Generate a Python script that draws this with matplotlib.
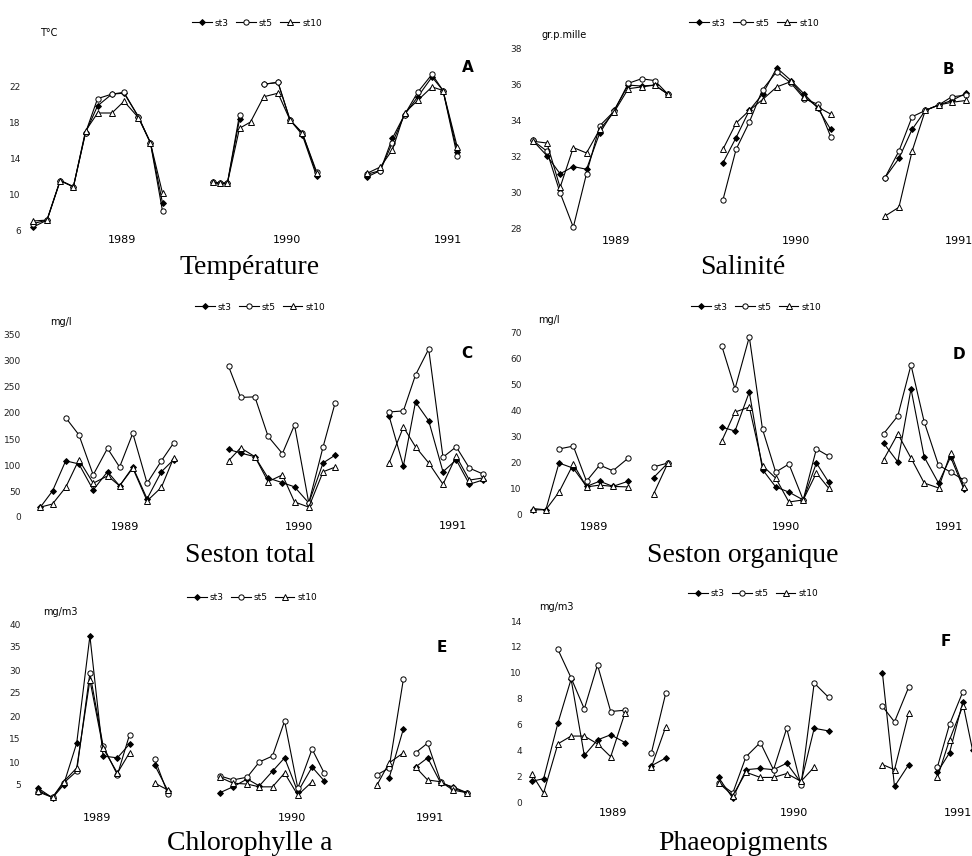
import matplotlib
matplotlib.use("Agg")
import matplotlib.pyplot as plt
from matplotlib.lines import Line2D
import numpy as np

nan = np.nan

# ---- data: x = months since start of 1989 survey, nan = gap between campaigns ----
x_A = [0.7, 2.0, 3.2, 4.4, 5.5, 6.6, 7.9, 9.0, 10.3, 11.4, 12.5, nan,
       17.1, 17.7, 18.4, 19.5, 20.5, 21.7, 23.0, 24.1, 25.2, 26.5, nan,
       31.1, 32.3, 33.4, 34.5, 35.7, 37.0, 38.0, 39.3]
a_st3 = [6.3, 7.1, 11.5, 10.8, 16.8, 19.8, 21.1, 21.2, 18.6, 15.7, 9.0, nan,
         11.3, 11.2, 11.2, 18.3, nan, 22.2, 22.4, 18.2, 16.6, 12.0, nan,
         11.9, 12.6, 16.2, 18.8, 20.8, 23.0, 21.5, 14.7]
a_st5 = [6.7, 7.1, 11.5, 10.8, 16.8, 20.6, 21.1, 21.3, 18.6, 15.7, 8.1, nan,
         11.3, 11.2, 11.2, 18.8, nan, 22.2, 22.4, 18.2, 16.8, 12.5, nan,
         12.2, 12.6, 15.7, 18.8, 21.3, 23.3, 21.5, 14.2]
a_st10 = [7.0, 7.1, 11.5, 10.8, 17.0, 19.0, 19.0, 20.3, 18.5, 15.7, 10.1, nan,
          11.3, 11.2, 11.2, 17.3, 18.0, 20.8, 21.2, 18.2, 16.8, 12.3, nan,
          12.3, 13.0, 14.9, 19.0, 20.4, 21.9, 21.5, 15.2]

x_B = [0.6, 1.9, 3.1, 4.3, 5.5, 6.7, 8.0, 9.3, 10.5, 11.7, 12.9, nan,
       17.9, 19.1, 20.3, 21.5, 22.8, 24.1, 25.3, 26.5, 27.7, nan,
       32.6, 33.9, 35.1, 36.3, 37.5, 38.7, 40.0]
b_st3 = [32.9, 32.05, 31.05, 31.45, 31.3, 33.3, 34.55, 35.95, 35.9, 35.95, 35.45, nan,
         31.65, 33.05, 34.55, 35.45, 36.9, 36.2, 35.45, 34.7, 33.5, nan,
         30.8, 31.9, 33.5, 34.55, 34.85, 35.1, 35.5]
b_st5 = [32.9, 32.3, 30.0, 28.1, 31.05, 33.7, 34.5, 36.05, 36.3, 36.2, 35.45, nan,
         29.6, 32.4, 33.9, 35.7, 36.7, 36.05, 35.2, 34.9, 33.1, nan,
         30.8, 32.3, 34.2, 34.55, 34.85, 35.3, 35.4]
b_st10 = [32.85, 32.75, 30.3, 32.5, 32.2, 33.5, 34.45, 35.75, 35.85, 35.95, 35.45, nan,
          32.4, 33.85, 34.55, 35.15, 35.85, 36.15, 35.3, 34.75, 34.35, nan,
          28.7, 29.2, 32.3, 34.55, 34.85, 35.0, 35.1]

x_C = [1.4, 2.5, 3.7, 4.9, 6.2, 7.5, 8.6, 9.8, 11.1, 12.4, 13.5, nan,
       18.5, 19.6, 20.9, 22.1, 23.4, 24.5, 25.8, 27.1, 28.2, nan,
       33.1, 34.4, 35.5, 36.7, 38.0, 39.2, 40.4, 41.6]
c_st3 = [19, 50, 108, 102, 52, 87, 60, 96, 35, 87, 110, nan,
         130, 123, 116, 75, 66, 58, 27, 104, 119, nan,
         194, 98, 221, 185, 87, 110, 63, 71]
c_st5 = [nan, nan, 191, 158, 81, 132, 96, 161, 65, 108, 142, nan,
         290, 230, 231, 155, 122, 177, 27, 135, 220, nan,
         202, 204, 273, 323, 115, 135, 94, 83]
c_st10 = [19, 25, 57, 110, 65, 79, 60, 94, 31, 57, 113, nan,
          108, 133, 116, 68, 81, 29, 19, 87, 96, nan,
          104, 173, 135, 104, 63, 117, 71, 75]

x_D = [0.6, 1.8, 3.0, 4.3, 5.5, 6.7, 7.9, 9.3, nan, 11.6, 12.9, nan,
       17.8, 19.0, 20.3, 21.5, 22.7, 23.9, 25.2, 26.4, 27.5, nan,
       32.5, 33.8, 35.0, 36.2, 37.5, 38.6, 39.8]
d_st3 = [2, 2, 20, 18, 11, 13, 11, 13, nan, 14.4, 20, nan,
         33.8, 32.3, 47.3, 17.5, 10.8, 8.8, 5.8, 20, 12.7, nan,
         27.7, 20.4, 48.5, 22.3, 12.3, 22.3, 10]
d_st5 = [nan, nan, 25.4, 26.5, 13, 19.2, 17, 21.9, nan, 18.5, 20, nan,
         65, 48.5, 68.5, 33, 16.5, 19.6, 5.8, 25.4, 22.7, nan,
         31.2, 38.1, 57.7, 35.8, 19.2, 16.5, 13.5]
d_st10 = [2.5, 2, 8.8, 19.6, 10.8, 11.5, 11, 10.8, nan, 8.1, 20, nan,
          28.5, 39.6, 41.5, 19, 14.2, 5, 5.8, 16.2, 10.4, nan,
          21.2, 31.2, 21.9, 12.3, 10.4, 23.8, 10.8]

x_E = [1.2, 2.5, 3.5, 4.7, 5.9, 7.1, 8.4, 9.5, nan, 11.8, 13.0, nan,
       17.7, 18.9, 20.2, 21.3, 22.5, 23.6, 24.8, 26.1, 27.2, nan,
       32.0, 33.1, 34.4, nan, 35.5, 36.6, 37.8, 38.9, 40.2]
e_st3 = [4.3, 2.2, 5.0, 14.1, 37.4, 11.3, 10.9, 13.9, nan, 9.3, 3.7, nan,
         3.3, 4.6, 6.3, 4.8, 8.0, 10.9, 3.5, 8.9, 5.9, nan,
         nan, 6.5, 17.2, nan, 8.9, 10.9, 5.4, 4.6, 3.3]
e_st5 = [3.5, 2.3, 5.4, 8.0, 29.3, 13.5, 7.2, 15.9, nan, 10.6, 3.0, nan,
         7.0, 6.1, 6.7, 10.0, 11.3, 18.9, 4.3, 12.8, 7.6, nan,
         7.2, 8.7, 28.0, nan, 12.0, 14.1, 5.7, 4.3, 3.3]
e_st10 = [3.8, 2.3, 5.7, 8.7, 27.8, 13.0, 7.6, 12.0, nan, 5.4, 3.9, nan,
          6.7, 5.4, 5.2, 4.6, 4.6, 7.6, 2.8, 5.7, nan, nan,
          5.0, 9.8, 12.0, nan, 8.9, 6.1, 5.7, 3.9, 3.3]

x_F = [0.5, 1.6, 2.9, 4.1, 5.3, 6.5, 7.7, 9.0, nan, 11.4, 12.7, nan,
       17.5, 18.8, 20.0, 21.3, 22.5, 23.7, 25.0, 26.2, 27.5, nan,
       32.4, 33.5, 34.8, nan, 37.4, 38.5, 39.7, 40.6]
f_st3 = [1.6, 1.8, 6.1, 9.5, 3.6, 4.8, 5.2, 4.6, nan, 2.8, 3.4, nan,
         1.9, 0.3, 2.5, 2.6, 2.5, 3.0, 1.5, 5.7, 5.5, nan,
         10.0, 1.2, 2.9, nan, 2.3, 3.8, 7.7, 4.0]
f_st5 = [nan, nan, 11.8, 9.6, 7.2, 10.6, 7.0, 7.1, nan, 3.8, 8.4, nan,
         1.5, 0.7, 3.5, 4.6, 2.5, 5.7, 1.3, 9.2, 8.1, nan,
         7.4, 6.2, 8.9, nan, 2.7, 6.0, 8.5, nan]
f_st10 = [2.2, 0.7, 4.5, 5.1, 5.1, 4.5, 3.5, 6.9, nan, 2.7, 5.8, nan,
          1.5, 0.5, 2.3, 1.9, 1.9, 2.2, 1.6, 2.7, nan, nan,
          2.9, 2.5, 6.9, nan, 1.9, 4.8, 7.4, nan]

stations = ["st3", "st5", "st10"]
years = ["1989", "1990", "1991"]

# ---- layout (pixels of a 972x856 page) ----
W, H = 972, 856
COLS = [(25, 486), (526, 972)]
PX_PER_MONTH = 11.0

STYLES = {
    "st3": dict(marker="D", ms=3.0, mfc="black", mec="black"),
    "st5": dict(marker="o", ms=3.8, mfc="white", mec="black"),
    "st10": dict(marker="^", ms=3.8, mfc="white", mec="black"),
}

panels = [
    dict(col=0, x=x_A, y=(a_st3, a_st5, a_st10), ref=(6, 230, 22, 86), ylim=(5, 24.5),
         yticks=[6, 10, 14, 18, 22], unit="T°C", unit_xy=(40, 33), letter="A", letter_xy=(468, 67),
         leg_xy=(257, 23), years_xy=[(122, 240), (287, 240), (448, 240)],
         title="Température", title_xy=(250, 267)),
    dict(col=1, x=x_B, y=(b_st3, b_st5, b_st10), ref=(28, 229, 38, 48), ylim=(27.5, 38.3),
         yticks=[28, 30, 32, 34, 36, 38], unit="gr.p.mille", unit_xy=(541, 35), letter="B",
         letter_xy=(948, 69), leg_xy=(754, 23), years_xy=[(616, 241), (796, 241), (959, 241)],
         title="Salinité", title_xy=(743, 268)),
    dict(col=0, x=x_C, y=(c_st3, c_st5, c_st10), ref=(0, 517, 350, 335), ylim=(-10, 350),
         yticks=list(range(0, 351, 50)), unit="mg/l", unit_xy=(50, 322), letter="C",
         letter_xy=(467, 353), leg_xy=(260, 307), years_xy=[(125, 527), (299, 527), (453, 526)],
         title="Seston total", title_xy=(250, 555)),
    dict(col=1, x=x_D, y=(d_st3, d_st5, d_st10), ref=(0, 515, 70, 333), ylim=(-2, 71),
         yticks=list(range(0, 71, 10)), unit="mg/l", unit_xy=(538, 320), letter="D",
         letter_xy=(959, 355), leg_xy=(756, 307), years_xy=[(594, 527), (786, 527), (949, 527)],
         title="Seston organique", title_xy=(743, 555)),
    dict(col=0, x=x_E, y=(e_st3, e_st5, e_st10), ref=(5, 785, 40, 624), ylim=(0.5, 40.5),
         yticks=list(range(5, 41, 5)), unit="mg/m3", unit_xy=(43, 612), letter="E",
         letter_xy=(442, 648), leg_xy=(252, 598), years_xy=[(97, 818), (292, 818), (430, 818)],
         title="Chlorophylle a", title_xy=(250, 843)),
    dict(col=1, x=x_F, y=(f_st3, f_st5, f_st10), ref=(0, 802, 14, 621), ylim=(-0.5, 14.3),
         yticks=list(range(0, 15, 2)), unit="mg/m3", unit_xy=(539, 607), letter="F",
         letter_xy=(946, 642), leg_xy=(753, 594), years_xy=[(613, 813), (794, 813), (958, 813)],
         title="Phaeopigments", title_xy=(743, 843)),
]


def fx(px):
    return px / W


def fy(py):
    return 1 - py / H


def add_panel(fig, p):
    """Axes placed so that the calibration values land where they sit on the page."""
    x0, x1 = COLS[p["col"]]
    v1, p1, v2, p2 = p["ref"]
    scale = (p1 - p2) / (v2 - v1)
    bottom = p1 - (p["ylim"][0] - v1) * scale
    top = p1 - (p["ylim"][1] - v1) * scale
    ax = fig.add_axes([fx(x0), fy(bottom), (x1 - x0) / W, (bottom - top) / H])
    ax.set_xlim(0, (x1 - x0) / PX_PER_MONTH)
    ax.set_ylim(*p["ylim"])
    ax.patch.set_visible(False)
    for s in ax.spines.values():
        s.set_visible(False)
    ax.set_xticks([])
    ax.set_yticks(p["yticks"])
    ax.tick_params(axis="y", length=0, pad=3, labelsize=6.5, labelcolor="#222222")

    for name, vals in zip(stations, p["y"]):
        ax.plot(p["x"], vals, color="black", lw=0.8, mew=0.7, **STYLES[name])

    fig.text(fx(p["unit_xy"][0]), fy(p["unit_xy"][1]), p["unit"], fontsize=7,
             ha="left", va="center")
    fig.text(fx(p["letter_xy"][0]), fy(p["letter_xy"][1]), p["letter"], fontsize=11,
             fontweight="bold", ha="center", va="center")
    for yr, (tx, ty) in zip(years, p["years_xy"]):
        fig.text(fx(tx), fy(ty), yr, fontsize=8, ha="center", va="center")
    fig.text(fx(p["title_xy"][0]), fy(p["title_xy"][1]), p["title"], fontsize=20,
             family="Liberation Serif", ha="center", va="center")

    handles = [Line2D([], [], color="black", lw=0.8, mew=0.7, **STYLES[n]) for n in stations]
    fig.legend(handles, stations, loc="center",
               bbox_to_anchor=(fx(p["leg_xy"][0]), fy(p["leg_xy"][1])),
               ncol=3, frameon=False, fontsize=6.5, handlelength=2.2, handletextpad=0.3,
               columnspacing=0.8, borderpad=0, borderaxespad=0)
    return ax


fig = plt.figure(figsize=(W / 100, H / 100), dpi=100)
for p in panels:
    add_panel(fig, p)

fig.savefig("out.png", dpi=100)
